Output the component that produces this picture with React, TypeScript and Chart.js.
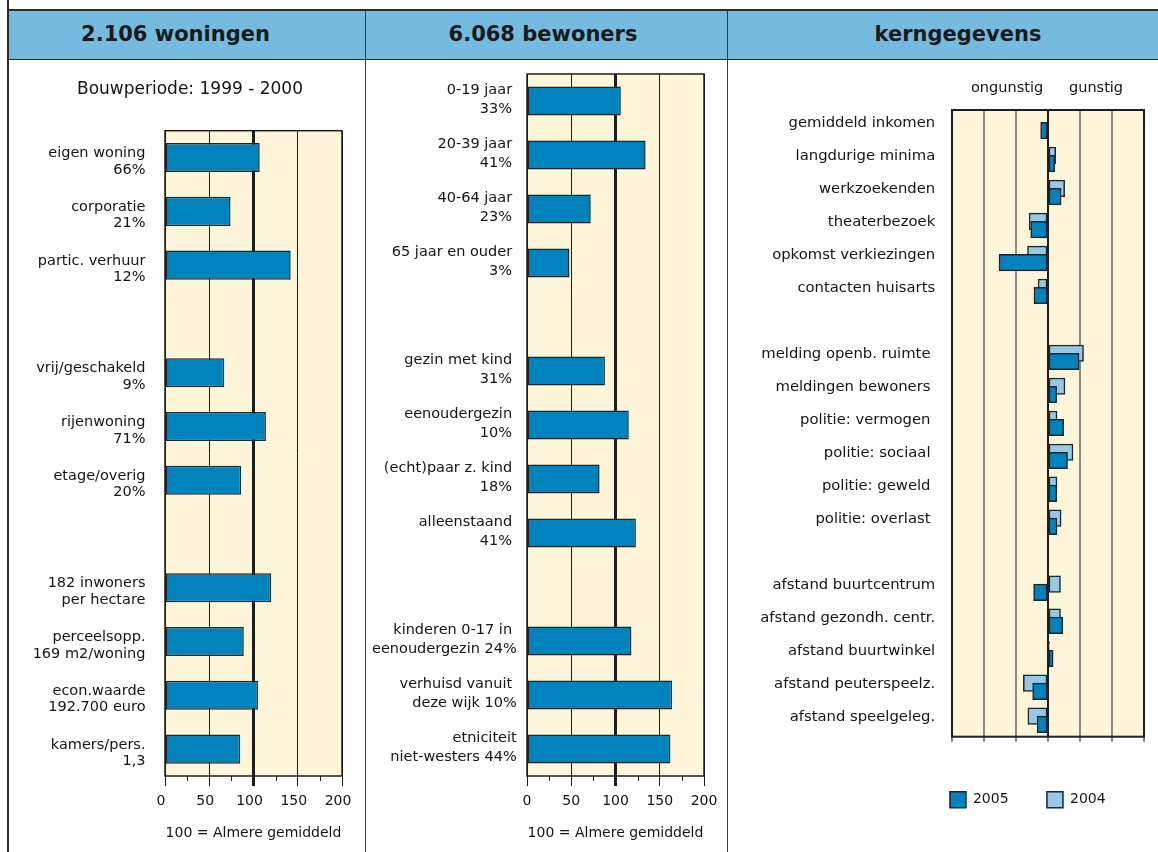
import React, { useEffect, useRef } from 'react';
import { Chart, registerables } from 'chart.js';

Chart.register(...registerables);

const FONT = '"DejaVu Sans", sans-serif';
const TEXT_COLOR = '#141414';
const DARK = '#1e1e1e';
const GRID_GREY = '#8E8A80';
const BLUE_2005 = '#0082BD';
const BLUE_2004 = '#95C9E5';
const BAR_EDGE = '#1B252B';
const CREAM = '#FFF5D8';
const HEADER_BLUE = '#74BBDF';

// ---------- Panel 1: woningen (index, 100 = Almere gemiddeld)
const woningCategories: (string | string[])[] = [
  ['eigen woning', '66%'],
  ['corporatie', '21%'],
  ['partic. verhuur', '12%'],
  '',
  ['vrij/geschakeld', '9%'],
  ['rijenwoning', '71%'],
  ['etage/overig', '20%'],
  '',
  ['182 inwoners', 'per hectare'],
  ['perceelsopp.', '169 m2/woning'],
  ['econ.waarde', '192.700 euro'],
  ['kamers/pers.', '1,3'],
];
const woningIndex: (number | null)[] = [107, 74, 142, null, 67, 114, 86, null, 120, 89, 105, 85];

// ---------- Panel 2: bewoners
const bewonerCategories: (string | string[])[] = [
  ['0-19 jaar ', '33% '],
  ['20-39 jaar ', '41% '],
  ['40-64 jaar ', '23% '],
  ['65 jaar en ouder ', '3% '],
  '',
  ['gezin met kind ', '31% '],
  ['eenoudergezin ', '10% '],
  ['(echt)paar z. kind ', '18% '],
  ['alleenstaand ', '41% '],
  '',
  ['kinderen 0-17 in ', 'eenoudergezin 24%'],
  ['verhuisd vanuit ', 'deze wijk 10%'],
  ['etniciteit', 'niet-westers 44%'],
];
const bewonerIndex: (number | null)[] = [106, 134, 72, 48, null, 88, 115, 82, 123, null, 118, 164, 162];

// ---------- Panel 3: kerngegevens
const kernCategories: string[] = [
  'gemiddeld inkomen',
  'langdurige minima',
  'werkzoekenden',
  'theaterbezoek',
  'opkomst verkiezingen',
  'contacten huisarts',
  '',
  'melding openb. ruimte ',
  'meldingen bewoners ',
  'politie: vermogen ',
  'politie: sociaal ',
  'politie: geweld ',
  'politie: overlast ',
  '',
  'afstand buurtcentrum',
  'afstand gezondh. centr.',
  'afstand buurtwinkel',
  'afstand peuterspeelz.',
  'afstand speelgeleg.',
];
const kern2005: (number | null)[] = [
  -0.23, 0.21, 0.41, -0.54, -1.53, -0.44, null,
  0.97, 0.27, 0.49, 0.61, 0.27, 0.28, null,
  -0.45, 0.46, 0.16, -0.48, -0.34,
];
const kern2004: (number | null)[] = [
  null, 0.24, 0.52, -0.59, -0.64, -0.31, null,
  1.11, 0.53, 0.28, 0.78, 0.28, 0.41, null,
  0.39, 0.39, 0.05, -0.77, -0.63,
];
const kernSeriesNames = ['2004', '2005'];

const indexRange = [0, 200];
const indexStep = 50;
const indexMinorTicks = [25, 75, 125, 175];
const indexReference = 100;
const kernRange = [-3, 3];

// ---------- plugins
const plotFrame = {
  id: 'plotFrame',
  beforeDraw(chart: any, _args: any, opts: any) {
    const { ctx, chartArea: a } = chart;
    ctx.save();
    ctx.fillStyle = opts.background || CREAM;
    ctx.fillRect(a.left, a.top, a.right - a.left, a.bottom - a.top);
    ctx.restore();
  },
  afterDatasetsDraw(chart: any, _args: any, opts: any) {
    const { ctx, chartArea: a } = chart;
    ctx.save();
    ctx.strokeStyle = opts.border || DARK;
    ctx.lineWidth = opts.borderWidth || 1.5;
    ctx.strokeRect(a.left, a.top, a.right - a.left, a.bottom - a.top);
    ctx.restore();
  },
  afterDraw(chart: any, _args: any, opts: any) {
    if (!opts.minorTicks) return;
    const { ctx, chartArea: a } = chart;
    const xs = chart.scales.x;
    ctx.save();
    ctx.strokeStyle = DARK;
    ctx.lineWidth = 1;
    for (const v of opts.minorTicks) {
      const px = Math.round(xs.getPixelForValue(v)) + 0.5;
      ctx.beginPath();
      ctx.moveTo(px, a.bottom);
      ctx.lineTo(px, a.bottom + 5);
      ctx.stroke();
    }
    ctx.restore();
  },
};

const deferDraw = {
  id: 'deferDraw',
  beforeDatasetDraw(chart: any, args: any, opts: any) {
    if (opts && opts.index === args.index && !chart.$deferring) return false;
    return true;
  },
  afterDatasetsDraw(chart: any, _args: any, opts: any) {
    if (!opts || opts.index == null) return;
    const meta = chart.getDatasetMeta(opts.index);
    if (!meta || !meta.visible) return;
    chart.$deferring = true;
    meta.controller.draw();
    chart.$deferring = false;
  },
};

type IndexPanelOpts = {
  labels: (string | string[])[];
  values: (number | null)[];
  padTop: number;
  padRight: number;
  yWidth: number;
  labelPad: number;
  labelOffset: number;
  lineHeight: number;
  xLabelOffset: number;
};

function indexPanelConfig(o: IndexPanelOpts): any {
  const refWidth = (c: any) => (c.tick && c.tick.value === indexReference ? 3 : 1);
  return {
    type: 'bar',
    data: {
      labels: o.labels,
      datasets: [
        {
          data: o.values,
          backgroundColor: BLUE_2005,
          borderColor: BAR_EDGE,
          borderWidth: 1.5,
          borderSkipped: false,
          categoryPercentage: 1,
          barPercentage: 0.54,
        },
      ],
    },
    options: {
      indexAxis: 'y',
      responsive: false,
      animation: false,
      events: [],
      layout: { padding: { left: 0, right: o.padRight, top: o.padTop, bottom: 0 } },
      plugins: {
        legend: { display: false },
        tooltip: { enabled: false },
        plotFrame: { background: CREAM, border: DARK, borderWidth: 1.5, minorTicks: indexMinorTicks },
      },
      scales: {
        x: {
          min: indexRange[0],
          max: indexRange[1],
          ticks: {
            stepSize: indexStep,
            padding: 7.3,
            labelOffset: o.xLabelOffset,
            color: TEXT_COLOR,
            font: { family: FONT, size: 14 },
          },
          grid: {
            color: DARK,
            lineWidth: refWidth,
            tickWidth: refWidth,
            tickColor: DARK,
            tickLength: 10,
          },
          border: { display: false },
          title: {
            display: true,
            text: '100 = Almere gemiddeld',
            color: TEXT_COLOR,
            font: { family: FONT, size: 14 },
            padding: { top: 0, bottom: 10.3 },
          },
          afterFit(s: any) {
            s.height = 76;
            s.paddingLeft = 0;
            s.paddingRight = 0;
          },
        },
        y: {
          grid: { display: false, drawTicks: false },
          border: { display: false },
          ticks: {
            autoSkip: false,
            padding: o.labelPad,
            labelOffset: o.labelOffset,
            color: TEXT_COLOR,
            font: { family: FONT, size: 14.5, lineHeight: o.lineHeight },
          },
          afterFit(s: any) {
            s.width = o.yWidth;
            s.paddingTop = 0;
            s.paddingBottom = 0;
          },
        },
      },
    },
    plugins: [plotFrame],
  };
}

function kernConfig(): any {
  return {
    type: 'bar',
    data: {
      labels: kernCategories,
      datasets: [
        {
          label: kernSeriesNames[0],
          data: kern2004,
          backgroundColor: BLUE_2004,
          borderColor: BAR_EDGE,
          borderWidth: 1.5,
          borderSkipped: false,
          categoryPercentage: 0.5,
          barPercentage: 2,
        },
        {
          label: kernSeriesNames[1],
          data: kern2005,
          backgroundColor: BLUE_2005,
          borderColor: BAR_EDGE,
          borderWidth: 1.5,
          borderSkipped: false,
          categoryPercentage: 0.5,
          barPercentage: 2,
        },
      ],
    },
    options: {
      indexAxis: 'y',
      responsive: false,
      animation: false,
      events: [],
      layout: { padding: { left: 0, right: 14, top: 51, bottom: 34.3 } },
      plugins: {
        tooltip: { enabled: false },
        legend: {
          display: true,
          position: 'bottom',
          align: 'end',
          reverse: true,
          labels: {
            boxWidth: 16,
            boxHeight: 16,
            padding: 38.4,
            color: TEXT_COLOR,
            font: { family: FONT, size: 14 },
          },
        },
        plotFrame: { background: CREAM, border: DARK, borderWidth: 2 },
        deferDraw: { index: 1 },
      },
      scales: {
        x: {
          min: kernRange[0],
          max: kernRange[1],
          ticks: { stepSize: 1, display: false },
          grid: {
            color: (c: any) => (c.tick && c.tick.value === 0 ? DARK : GRID_GREY),
            lineWidth: 2,
            tickLength: 5,
            tickColor: '#555555',
            tickWidth: 1.5,
          },
          border: { display: false },
          afterFit(s: any) {
            s.height = 16.6;
            s.paddingLeft = 0;
            s.paddingRight = 0;
          },
        },
        y: {
          grid: { display: false, drawTicks: false },
          border: { display: false },
          ticks: {
            autoSkip: false,
            padding: 16.8,
            labelOffset: -3,
            color: TEXT_COLOR,
            font: { family: FONT, size: 14.8 },
          },
          afterFit(s: any) {
            s.width = 224;
            s.paddingTop = 0;
            s.paddingBottom = 0;
          },
        },
      },
    },
    plugins: [deferDraw, plotFrame],
  };
}

function ChartCanvas(props: { left: number; top: number; width: number; height: number; build: () => any }) {
  const ref = useRef<HTMLCanvasElement>(null);
  useEffect(() => {
    if (!ref.current) return;
    const chart = new Chart(ref.current, props.build());
    return () => chart.destroy();
  }, []);
  return (
    <canvas
      ref={ref}
      width={props.width}
      height={props.height}
      style={{ position: 'absolute', left: props.left, top: props.top, width: props.width, height: props.height }}
    />
  );
}

const headers = [
  { text: '2.106 woningen', center: 175.5 },
  { text: '6.068 bewoners', center: 543 },
  { text: 'kerngegevens', center: 958 },
];

export default function App() {
  return (
    <div
      style={{
        position: 'absolute',
        left: 0,
        top: 0,
        width: 1158,
        height: 852,
        overflow: 'hidden',
        background: '#ffffff',
        fontFamily: FONT,
        color: TEXT_COLOR,
      }}
    >
      <div
        style={{
          position: 'absolute',
          left: 9,
          top: 9,
          width: 1149,
          height: 51,
          background: HEADER_BLUE,
          borderTop: '2px solid #2b2b2b',
          borderBottom: '1.5px solid #2b2b2b',
          boxSizing: 'border-box',
        }}
      />
      {headers.map((h) => (
        <div
          key={h.text}
          style={{
            position: 'absolute',
            left: h.center - 150,
            width: 300,
            top: 11,
            height: 46,
            lineHeight: '46px',
            textAlign: 'center',
            fontWeight: 'bold',
            fontSize: 21,
            color: '#1a1a1a',
          }}
        >
          {h.text}
        </div>
      ))}

      <ChartCanvas
        left={9}
        top={59}
        width={355}
        height={793}
        build={() =>
          indexPanelConfig({
            labels: woningCategories,
            values: woningIndex,
            padTop: 71.7,
            padRight: 22,
            yWidth: 156,
            labelPad: 19.5,
            labelOffset: 4,
            lineHeight: 1.15,
            xLabelOffset: -4,
          })
        }
      />
      <ChartCanvas
        left={366}
        top={59}
        width={360}
        height={793}
        build={() =>
          indexPanelConfig({
            labels: bewonerCategories,
            values: bewonerIndex,
            padTop: 15,
            padRight: 22,
            yWidth: 161,
            labelPad: 10.3,
            labelOffset: -1,
            lineHeight: 1.3,
            xLabelOffset: 0,
          })
        }
      />
      <ChartCanvas left={728} top={59} width={430} height={793} build={kernConfig} />

      <div style={{ position: 'absolute', left: 7, top: 0, width: 2, height: 852, background: '#2b2b2b' }} />
      <div style={{ position: 'absolute', left: 364.5, top: 10, width: 1.5, height: 842, background: '#3a3a3a' }} />
      <div style={{ position: 'absolute', left: 726.5, top: 10, width: 1.5, height: 842, background: '#3a3a3a' }} />

      <div
        style={{
          position: 'absolute',
          left: 40,
          width: 300,
          top: 77,
          height: 22,
          lineHeight: '22px',
          textAlign: 'center',
          fontSize: 17,
        }}
      >
        Bouwperiode: 1999 - 2000
      </div>
      <div style={{ position: 'absolute', left: 971, top: 77, height: 20, lineHeight: '20px', fontSize: 14.5 }}>
        ongunstig
      </div>
      <div style={{ position: 'absolute', left: 1069, top: 77, height: 20, lineHeight: '20px', fontSize: 14.5 }}>
        gunstig
      </div>
    </div>
  );
}
